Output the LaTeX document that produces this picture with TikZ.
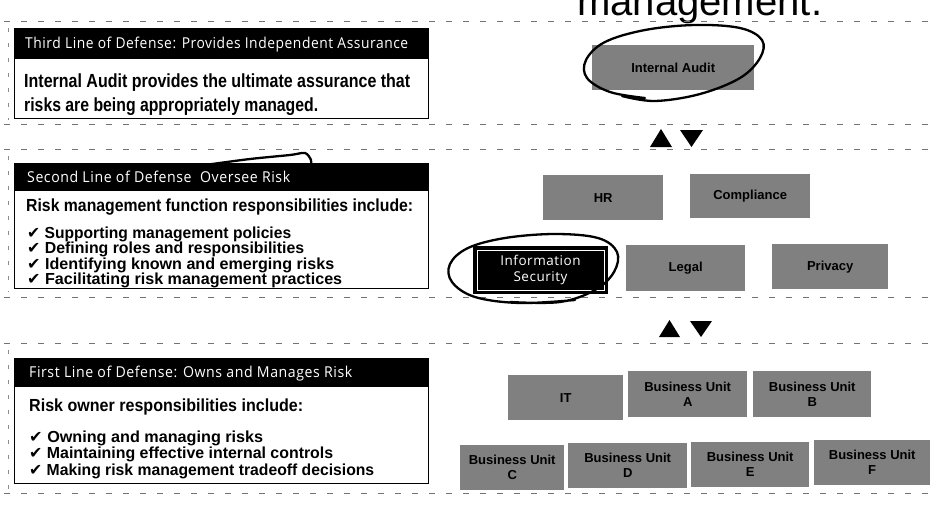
\documentclass[tikz,border=0pt]{standalone}
\usepackage{fontspec}
\usepackage{graphicx}
\setmainfont{Liberation Sans}
\newfontfamily\hdrfont{Open Sans}[LetterSpace=4]
\newfontfamily\symfont{DejaVu Sans}
% set a line to a given width, keeping its natural height
\newcommand\fitw[2]{\resizebox{#1}{\height}{#2}}
\newcommand\tick{{\symfont ✔}\ }

\begin{document}
\begin{tikzpicture}[x=1pt,y=-1pt,
  sepline/.style={draw=black!55, line width=0.9pt, dash pattern=on 6pt off 11pt},
  sideline/.style={draw=black!45, line width=0.8pt, dash pattern=on 4pt off 11pt},
  hdrbar/.style={rectangle, fill=black, draw=black, inner sep=0pt, anchor=north west},
  bodybox/.style={rectangle, fill=white, draw=black, line width=1.3pt, inner sep=0pt, anchor=north west},
  hdrtext/.style={anchor=base west, inner sep=0pt, text=white, font=\hdrfont\fontsize{15}{17}\selectfont},
  bodytext/.style={anchor=base west, inner sep=0pt, font=\bfseries\fontsize{19}{22}\selectfont},
  leadtext/.style={anchor=base west, inner sep=0pt, font=\bfseries\fontsize{17.5}{19}\selectfont},
  listtext/.style={anchor=base west, inner sep=0pt, font=\bfseries\fontsize{16}{17}\selectfont},
  unit/.style={rectangle, fill=black!50, inner sep=0pt, anchor=north west, align=center,
    font=\bfseries\fontsize{13}{15}\selectfont},
  secbox/.style={rectangle, fill=black, draw=black, line width=1pt, inner sep=0pt, anchor=north west,
    align=center, text=white, font=\hdrfont\fontsize{13.5}{16}\selectfont},
  pen/.style={line width=2.3pt, line cap=round, line join=round},
  marker/.style={fill=black}
]
% page
\fill[white] (0,0) rectangle (930,504);
\path[use as bounding box] (0,0) rectangle (930,504);

% running title, cut by the page edge
\node[anchor=base west, inner sep=0pt, font=\fontsize{40}{40}\selectfont] (title) at (577,15)
  {\fitw{245pt}{management.}};

% section separators
\draw[sepline] (4,21) -- (930,21);
\draw[sepline] (4,124) -- (930,124);
\draw[sepline] (4,149) -- (930,149);
\draw[sepline] (4,297) -- (930,297);
\draw[sepline] (4,343) -- (930,343);
\draw[sepline] (4,493) -- (930,493);
\draw[sideline] (8,28) -- (8,120);
\draw[sideline] (8,156) -- (8,292);
\draw[sideline] (8,350) -- (8,490);

% ---- third line of defense ----
\node[bodybox, minimum width=414pt, minimum height=61pt] (b3) at (14,57) {};
\node[hdrbar, minimum width=414pt, minimum height=30pt] (h3) at (14,28) {};
\node[hdrtext] (h3t) at (25,48) {\fitw{383pt}{Third Line of Defense: Provides Independent Assurance}};
\node[bodytext] (b3a) at (24,87) {\fitw{386pt}{Internal Audit provides the ultimate assurance that}};
\node[bodytext] (b3b) at (24,111) {\fitw{294pt}{risks are being appropriately managed.}};

% ---- second line of defense ----
\node[bodybox, minimum width=414pt, minimum height=98pt] (b2) at (14,190) {};
\node[hdrbar, minimum width=414pt, minimum height=27pt] (h2) at (14,163) {};
\node[hdrtext] (h2t) at (27,182) {\fitw{263pt}{Second Line of Defense\ \ Oversee Risk}};
\node[leadtext] (b2a) at (26,211) {\fitw{387pt}{Risk management function responsibilities include:}};
\node[listtext] (b2b) at (27,238) {\fitw{264pt}{\tick Supporting management policies}};
\node[listtext] (b2c) at (27,253.5) {\fitw{277pt}{\tick Defining roles and responsibilities}};
\node[listtext] (b2d) at (27,269) {\fitw{307pt}{\tick Identifying known and emerging risks}};
\node[listtext] (b2e) at (27,284.5) {\fitw{315pt}{\tick Facilitating risk management practices}};

% ---- first line of defense ----
\node[bodybox, minimum width=414pt, minimum height=97pt] (b1) at (14,386) {};
\node[hdrbar, minimum width=414pt, minimum height=28pt] (h1) at (14,358) {};
\node[hdrtext] (h1t) at (29,377) {\fitw{323pt}{First Line of Defense: Owns and Manages Risk}};
\node[leadtext] (b1a) at (29,411) {\fitw{274pt}{Risk owner responsibilities include:}};
\node[listtext] (b1b) at (29,442) {\fitw{234pt}{\tick Owning and managing risks}};
\node[listtext] (b1c) at (29,458.5) {\fitw{304pt}{\tick Maintaining effective internal controls}};
\node[listtext] (b1d) at (29,475) {\fitw{345pt}{\tick Making risk management tradeoff decisions}};

% ---- organisation units ----
\node[unit, minimum width=162pt, minimum height=45pt] (ia) at (592,45) {Internal Audit};

\node[unit, minimum width=120pt, minimum height=45pt] (hr) at (543,175) {HR};
\node[unit, minimum width=120pt, minimum height=44pt] (comp) at (690,174) {Compliance};
\node[secbox, minimum width=134pt, minimum height=47pt] (isec) at (473,246) {Information\\Security};
\draw[white, line width=0.9pt] ([shift={(4pt,-4pt)}]isec.north west) rectangle ([shift={(-4pt,4pt)}]isec.south east);
\node[unit, minimum width=119pt, minimum height=46pt] (legal) at (626,245) {Legal};
\node[unit, minimum width=116pt, minimum height=45pt] (priv) at (772,244) {Privacy};

\node[unit, minimum width=115pt, minimum height=45pt] (it) at (508,375) {IT};
\node[unit, minimum width=119pt, minimum height=46pt] (bua) at (628,371) {Business Unit\\A};
\node[unit, minimum width=118pt, minimum height=46pt] (bub) at (753,371) {Business Unit\\B};
\node[unit, minimum width=104pt, minimum height=45pt] (buc) at (460,445) {Business Unit\\C};
\node[unit, minimum width=119pt, minimum height=45pt] (bud) at (568,443) {Business Unit\\D};
\node[unit, minimum width=118pt, minimum height=45pt] (bue) at (691,442) {Business Unit\\E};
\node[unit, minimum width=116pt, minimum height=45pt] (buf) at (814,440) {Business Unit\\F};

% up / down markers between the tiers
\fill[marker] (650,147) -- (672,147) -- (661,129) -- cycle;
\fill[marker] (680,130) -- (703,130) -- (691.5,147) -- cycle;
\fill[marker] (659,337) -- (680,337) -- (669.5,320) -- cycle;
\fill[marker] (690,321) -- (712,321) -- (701,337) -- cycle;

% pen marks
\draw[pen] plot[smooth, tension=0.6] coordinates {(645,98) (610,92) (587,78) (586,60) (605,42) (645,30) (695,25) (740,28) (762,40) (760,58) (740,78) (700,94) (655,101) (622,96)};
\draw[pen] plot[smooth, tension=0.6] coordinates {(575,300) (520,303) (475,297) (452,282) (450,264) (468,248) (505,238) (555,234) (598,238) (617,252) (614,272) (595,290) (560,302) (510,302)};
\draw[pen] plot[smooth, tension=0.5] coordinates {(205,165) (250,159) (290,155) (305,153) (311,160) (311,166)};
\end{tikzpicture}
\end{document}
